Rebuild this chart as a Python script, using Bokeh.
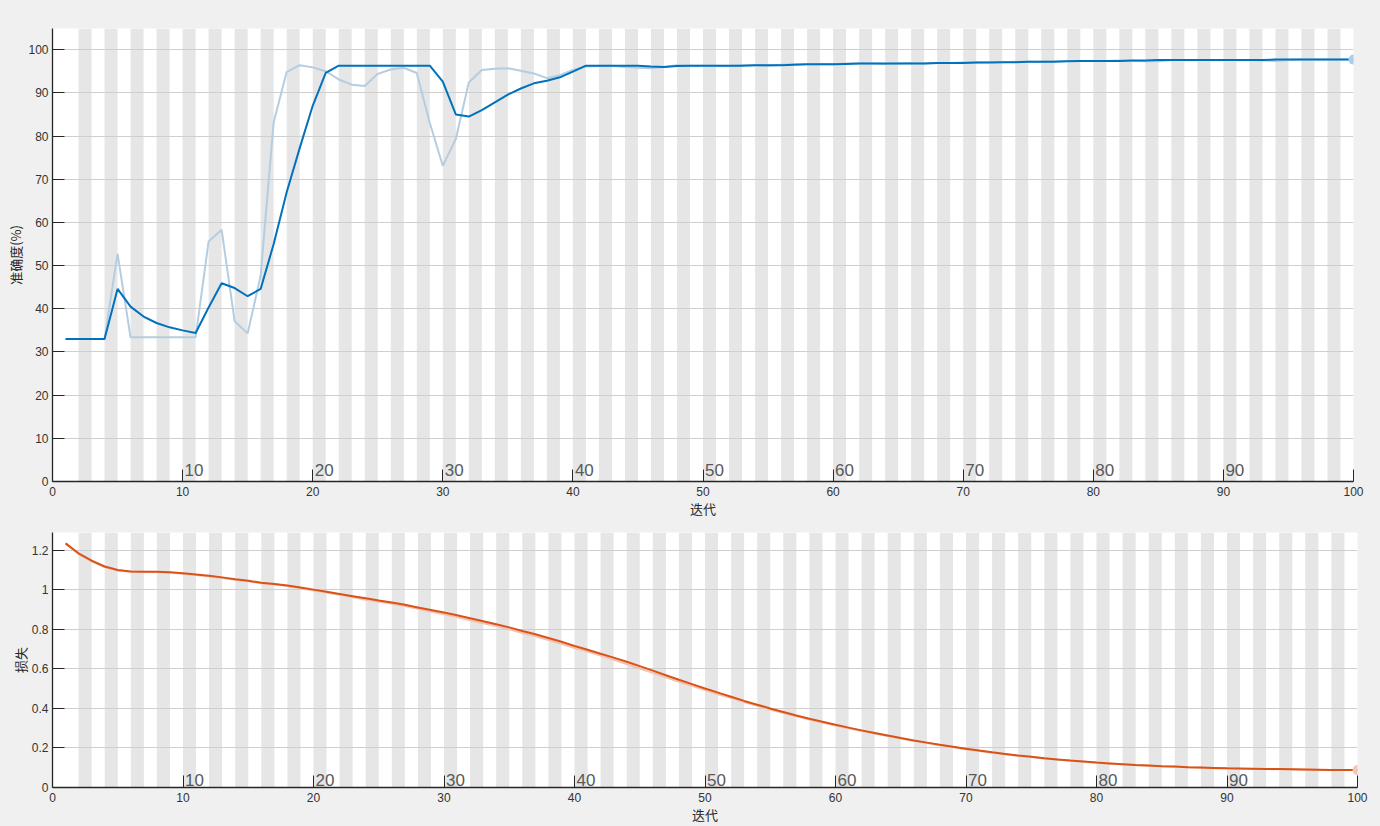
from bokeh.plotting import figure
from bokeh.layouts import column
from bokeh.models import Range1d, FixedTicker, NumeralTickFormatter
from bokeh.core.properties import value
from bokeh.embed import file_html
from bokeh.resources import INLINE

iterations = list(range(1, 101))

acc_raw = [
    33.0, 33.0, 33.0, 33.0, 52.7, 33.4, 33.4, 33.4, 33.4, 33.4,
    33.4, 55.6, 58.3, 37.1, 34.3, 47.7, 83.2, 94.8, 96.4, 95.9,
    95.0, 93.1, 91.9, 91.6, 94.4, 95.4, 95.8, 94.6, 83.0, 73.1,
    79.3, 92.4, 95.3, 95.6, 95.7, 95.1, 94.5, 93.4, 94.1, 95.3,
    96.1, 96.2, 96.3, 96.0, 95.8, 95.7, 96.0, 96.4, 96.3, 96.3,
    96.3, 96.2, 96.4, 96.4, 96.3, 96.5, 96.6, 96.6, 96.7, 96.6,
    96.8, 96.8, 96.8, 96.7, 96.8, 96.9, 96.8, 96.9, 96.9, 97.0,
    97.0, 97.1, 97.1, 97.2, 97.2, 97.2, 97.3, 97.4, 97.4, 97.4,
    97.4, 97.5, 97.4, 97.3, 97.3, 97.6, 97.6, 97.6, 97.6, 97.6,
    97.6, 97.6, 97.5, 97.4, 97.6, 97.7, 97.7, 97.7, 97.7, 97.7,
]

acc_smooth = [
    33.0, 33.0, 33.0, 33.0, 44.6, 40.5, 38.2, 36.7, 35.7, 35.0,
    34.4, 40.3, 45.9, 44.8, 42.9, 44.6, 55.0, 67.0, 77.2, 87.0,
    94.6, 96.3, 96.3, 96.3, 96.3, 96.3, 96.3, 96.3, 96.3, 92.6,
    85.0, 84.5, 86.0, 87.8, 89.6, 91.0, 92.2, 92.8, 93.6, 94.9,
    96.3, 96.3, 96.3, 96.3, 96.3, 96.1, 96.0, 96.2, 96.3, 96.3,
    96.3, 96.3, 96.3, 96.4, 96.4, 96.4, 96.5, 96.6, 96.6, 96.6,
    96.7, 96.8, 96.8, 96.8, 96.8, 96.8, 96.8, 96.9, 96.9, 96.9,
    97.0, 97.0, 97.1, 97.1, 97.2, 97.2, 97.2, 97.3, 97.4, 97.4,
    97.4, 97.4, 97.5, 97.5, 97.6, 97.6, 97.6, 97.6, 97.6, 97.6,
    97.6, 97.6, 97.6, 97.7, 97.7, 97.7, 97.7, 97.7, 97.7, 97.7,
]

loss_raw = [
    1.235, 1.180, 1.143, 1.115, 1.098, 1.092, 1.091, 1.090, 1.087, 1.081,
    1.075, 1.068, 1.060, 1.051, 1.043, 1.033, 1.028, 1.019, 1.008, 0.997,
    0.986, 0.975, 0.963, 0.950, 0.939, 0.930, 0.918, 0.904, 0.890, 0.876,
    0.862, 0.846, 0.831, 0.817, 0.800, 0.782, 0.765, 0.746, 0.727, 0.705,
    0.688, 0.667, 0.646, 0.625, 0.602, 0.580, 0.557, 0.535, 0.514, 0.493,
    0.472, 0.452, 0.432, 0.414, 0.395, 0.377, 0.360, 0.344, 0.329, 0.313,
    0.300, 0.286, 0.273, 0.260, 0.248, 0.236, 0.225, 0.214, 0.204, 0.194,
    0.185, 0.176, 0.168, 0.161, 0.154, 0.147, 0.141, 0.135, 0.130, 0.125,
    0.121, 0.117, 0.113, 0.110, 0.107, 0.105, 0.102, 0.100, 0.098, 0.097,
    0.095, 0.094, 0.093, 0.092, 0.091, 0.090, 0.089, 0.089, 0.088, 0.088,
]

loss_smooth = [
    1.235, 1.185, 1.148, 1.118, 1.100, 1.093, 1.091, 1.091, 1.089, 1.084,
    1.078, 1.071, 1.063, 1.054, 1.046, 1.036, 1.030, 1.022, 1.012, 1.001,
    0.990, 0.979, 0.968, 0.957, 0.946, 0.936, 0.924, 0.911, 0.898, 0.885,
    0.871, 0.856, 0.841, 0.826, 0.810, 0.792, 0.775, 0.756, 0.737, 0.716,
    0.697, 0.677, 0.657, 0.636, 0.614, 0.591, 0.568, 0.545, 0.523, 0.501,
    0.480, 0.459, 0.438, 0.419, 0.400, 0.382, 0.364, 0.348, 0.333, 0.317,
    0.303, 0.289, 0.276, 0.263, 0.250, 0.238, 0.227, 0.216, 0.206, 0.196,
    0.187, 0.178, 0.170, 0.162, 0.155, 0.148, 0.142, 0.136, 0.131, 0.126,
    0.122, 0.118, 0.114, 0.111, 0.108, 0.106, 0.103, 0.101, 0.099, 0.097,
    0.096, 0.095, 0.094, 0.093, 0.092, 0.091, 0.090, 0.089, 0.089, 0.088,
]

x_ticks = [0, 10, 20, 30, 40, 50, 60, 70, 80, 90, 100]
epoch_marks = [10, 20, 30, 40, 50, 60, 70, 80, 90]
epoch_labels = ["10", "20", "30", "40", "50", "60", "70", "80", "90"]
acc_ticks = [0, 10, 20, 30, 40, 50, 60, 70, 80, 90, 100]
loss_ticks = [0, 0.2, 0.4, 0.6, 0.8, 1.0, 1.2]

BG = "#f0f0f0"
STRIPE = "#e6e6e6"
AXIS = "#262626"
TXT = "#333333"
CJK = "Noto Sans CJK SC"

stripe_left = [k for k in range(2, 100, 2)]
stripe_right = [k + 1 for k in stripe_left]


def make_fig(frame_w, frame_h, y_max, y_ticks, ylabel, min_left, min_top, min_bottom,
             raw, smooth, raw_color, dark_color, marker_color, epoch_off, ylab_standoff):
    p = figure(frame_width=frame_w, frame_height=frame_h,
               x_range=Range1d(0, 100), y_range=Range1d(0, y_max),
               output_backend="svg", toolbar_location=None,
               min_border_left=min_left, min_border_right=27,
               min_border_top=min_top, min_border_bottom=min_bottom)
    p.background_fill_color = "white"
    p.border_fill_color = BG
    p.outline_line_color = None

    p.quad(left=stripe_left, right=stripe_right, bottom=0, top=y_max,
           fill_color=STRIPE, line_color=None, level="image")

    p.xgrid.grid_line_color = None
    p.ygrid.ticker = FixedTicker(ticks=y_ticks)
    p.ygrid.grid_line_color = "#cfcfcf"
    p.ygrid.grid_line_width = 1

    for ax in (p.xaxis, p.yaxis):
        ax.axis_line_color = AXIS
        ax.axis_line_width = 1.3
        ax.major_tick_line_color = AXIS
        ax.major_tick_line_width = 1
        ax.major_tick_in = 12
        ax.major_tick_out = 0
        ax.minor_tick_line_color = None
        ax.major_label_text_font = "Liberation Sans"
        ax.major_label_text_font_size = "12px"
        ax.major_label_text_color = TXT
        ax.axis_label_text_font = CJK
        ax.axis_label_text_font_size = "13px"
        ax.axis_label_text_font_style = "normal"
        ax.axis_label_text_color = AXIS

    p.xaxis.ticker = FixedTicker(ticks=x_ticks)
    p.xaxis.major_label_standoff = 5
    p.xaxis.axis_label = "迭代"
    p.xaxis.axis_label_standoff = 0

    p.yaxis.ticker = FixedTicker(ticks=y_ticks)
    p.yaxis.formatter = NumeralTickFormatter(format="0.[0]")
    p.yaxis.major_label_standoff = 4
    p.yaxis.axis_label = ylabel
    p.yaxis.axis_label_standoff = ylab_standoff

    p.line(iterations, raw, line_color=raw_color, line_width=2)
    p.line(iterations, smooth, line_color=dark_color, line_width=2)
    p.scatter([iterations[-1]], [raw[-1]], size=10, fill_color=marker_color,
              line_color=None)

    p.text(x=epoch_marks, y=[0] * len(epoch_marks), text=epoch_labels,
           text_font=value("Liberation Sans"), text_font_size="17px",
           text_color="#595959", text_baseline="alphabetic", text_align="left",
           x_offset=2, y_offset=epoch_off)
    return p


p1 = make_fig(1301, 453, 104.9, acc_ticks, "准确度(%)", 52, 28, 39,
              acc_raw, acc_smooth, "#b5cde0", "#0072BD", "#a9cdeb", -12, 0)
p2 = make_fig(1305, 255, 1.29, loss_ticks, "损失", 48, 12, 39,
              loss_raw, loss_smooth, "#f2c2ae", "#D95319", "#f5c6b2", -8, -1)

layout = column(p1, p2, spacing=0)
layout.styles = {"background-color": BG}

html = file_html(layout, INLINE)
html = html.replace("<body>", '<body style="background-color:#f0f0f0;">', 1)
open("out.html", "w").write(html)
